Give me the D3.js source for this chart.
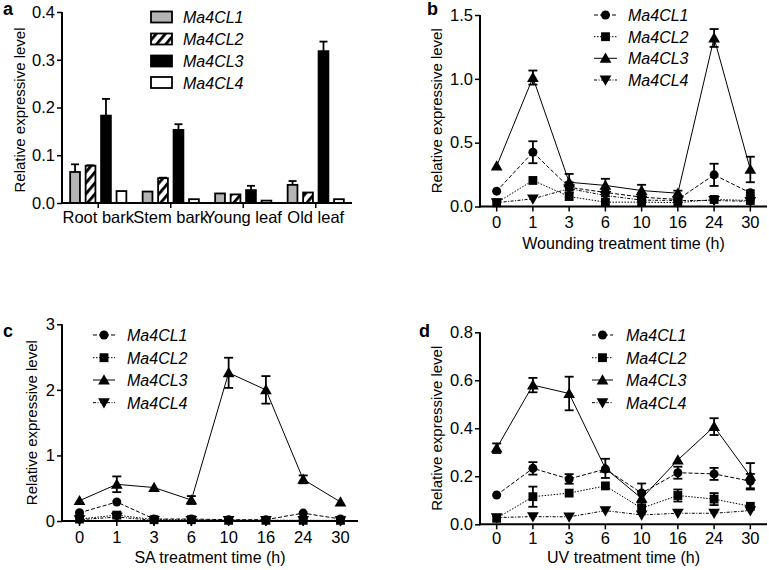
<!DOCTYPE html>
<html><head><meta charset="utf-8">
<script src="https://cdn.jsdelivr.net/npm/d3@7"></script>
<style>body{margin:0;background:#fff} text{font-family:"Liberation Sans",Arial,sans-serif;fill:#000}</style>
</head><body><svg id="c" width="769" height="570"></svg>
<script>
// ---------- data ----------
const genes = ["Ma4CL1", "Ma4CL2", "Ma4CL3", "Ma4CL4"];
const tissues = ["Root bark", "Stem bark", "Young leaf", "Old leaf"];
const times = ["0", "1", "3", "6", "10", "16", "24", "30"];

// panel a: tissues
const aCL1 = [0.065, 0.024, 0.020, 0.038];
const aCL1Err = [0.016, 0, 0, 0.008];
const aCL2 = [0.078, 0.052, 0.018, 0.022];
const aCL2Err = [0.001, 0.001, 0, 0];
const aCL3 = [0.183, 0.153, 0.027, 0.318];
const aCL3Err = [0.035, 0.012, 0.009, 0.020];
const aCL4 = [0.025, 0.008, 0.005, 0.008];
const aCL4Err = [0, 0, 0, 0];
const aTicks = [0.0, 0.1, 0.2, 0.3, 0.4];

// panel b: wounding
const bCL1 = [0.12, 0.425, 0.15, 0.11, 0.073, 0.055, 0.248, 0.107];
const bCL1Err = [0, 0.086, 0.04, 0.03, 0.02, 0.01, 0.087, 0.02];
const bCL2 = [0.029, 0.204, 0.078, 0.034, 0.034, 0.03, 0.055, 0.047];
const bCL2Err = [0, 0, 0, 0, 0, 0, 0, 0];
const bCL3 = [0.316, 1.01, 0.19, 0.165, 0.125, 0.104, 1.32, 0.29];
const bCL3Err = [0, 0.055, 0.065, 0.052, 0.045, 0.02, 0.07, 0.1];
const bCL4 = [0.03, 0.06, 0.14, 0.086, 0.05, 0.047, 0.047, 0.04];
const bCL4Err = [0, 0, 0, 0, 0, 0, 0, 0];
const bTicks = [0.0, 0.5, 1.0, 1.5];

// panel c: SA
const cCL1 = [0.125, 0.29, 0.03, 0.03, 0.02, 0.02, 0.12, 0.03];
const cCL1Err = [0, 0, 0, 0, 0, 0, 0, 0];
const cCL2 = [0.03, 0.09, 0.02, 0.02, 0.01, 0.01, 0.01, 0.01];
const cCL2Err = [0, 0.04, 0, 0, 0, 0, 0, 0];
const cCL3 = [0.31, 0.56, 0.51, 0.32, 2.26, 2.0, 0.635, 0.29];
const cCL3Err = [0, 0.12, 0, 0.06, 0.23, 0.21, 0.06, 0];
const cCL4 = [0.02, 0.06, 0.01, 0.01, 0.01, 0.01, 0.01, 0.005];
const cCL4Err = [0, 0, 0, 0, 0, 0, 0, 0];
const cTicks = [0, 1, 2, 3];

// panel d: UV
const dCL1 = [0.122, 0.233, 0.189, 0.23, 0.13, 0.215, 0.21, 0.18];
const dCL1Err = [0, 0.026, 0.02, 0, 0.04, 0.025, 0.025, 0.03];
const dCL2 = [0.025, 0.115, 0.13, 0.16, 0.067, 0.12, 0.105, 0.075];
const dCL2Err = [0, 0.042, 0, 0, 0, 0.025, 0.025, 0];
const dCL3 = [0.317, 0.58, 0.545, 0.233, 0.108, 0.268, 0.407, 0.2];
const dCL3Err = [0.02, 0.03, 0.07, 0.04, 0.03, 0, 0.035, 0.055];
const dCL4 = [0.028, 0.032, 0.031, 0.057, 0.039, 0.046, 0.046, 0.057];
const dCL4Err = [0, 0, 0, 0, 0, 0, 0, 0];
const dTicks = [0.0, 0.2, 0.4, 0.6, 0.8];

// ---------- drawing ----------
const svg = d3.select("#c");
const defs = svg.append("defs");
const pat = defs.append("pattern").attr("id", "hatch").attr("patternUnits", "userSpaceOnUse")
  .attr("width", 7).attr("height", 7).attr("patternTransform", "rotate(40)");
pat.append("rect").attr("width", 7).attr("height", 7).attr("fill", "#fff");
pat.append("rect").attr("x", 0).attr("y", 0).attr("width", 2.8).attr("height", 7).attr("fill", "#000");

const AX_W = 2;
const TICK_FS = 16.5;

function yAxis(g, y, x0, ticks, fmt) {
  const ax = g.append("g").attr("transform", `translate(${x0},0)`)
    .call(d3.axisLeft(y).tickValues(ticks).tickFormat(fmt).tickSize(5).tickPadding(2));
  ax.select(".domain").attr("stroke-width", AX_W).attr("d", `M0,${y.range()[0] + 1}V${y.range()[1]}`);
  ax.selectAll(".tick line").attr("stroke-width", 1.5);
  ax.selectAll(".tick text").attr("font-size", TICK_FS).attr("font-family", "Liberation Sans, Arial, sans-serif");
  return ax;
}
function xAxisLine(g, x0, x1, yb) {
  g.append("line").attr("x1", x0 - 1).attr("x2", x1).attr("y1", yb).attr("y2", yb)
    .attr("stroke", "#000").attr("stroke-width", AX_W);
}
function yTitle(g, x, yc) {
  g.append("text").attr("transform", `translate(${x},${yc}) rotate(-90)`)
    .attr("text-anchor", "middle").attr("font-size", 15).text("Relative expressive level");
}
function panelLabel(g, x, y, t) {
  g.append("text").attr("x", x).attr("y", y).attr("font-size", 18).attr("font-weight", "bold").text(t);
}

// ----- panel a -----
(function () {
  const g = svg.append("g");
  const x0 = 62, x1 = 352, yTop = 12, yBot = 203;
  const y = d3.scaleLinear().domain([0, 0.4]).range([yBot, yTop]);
  const xb = d3.scaleBand().domain(tissues).range([x0, x1]).paddingInner(0.2).paddingOuter(0.1);
  const xg = d3.scaleBand().domain(genes).range([0, xb.bandwidth()]).paddingInner(0.25);
  const vals = [aCL1, aCL2, aCL3, aCL4];
  const errs = [aCL1Err, aCL2Err, aCL3Err, aCL4Err];
  const fills = ["#b4b4b4", "url(#hatch)", "#000", "#fff"];
  genes.forEach((gn, gi) => {
    tissues.forEach((t, ti) => {
      const v = vals[gi][ti], e = errs[gi][ti];
      const bx = xb(t) + xg(gn), bw = xg.bandwidth();
      if (e > 0) {
        const cx = bx + bw / 2;
        g.append("line").attr("x1", cx).attr("x2", cx).attr("y1", y(v)).attr("y2", y(v + e)).attr("stroke", "#000").attr("stroke-width", 1.8);
        g.append("line").attr("x1", cx - 4).attr("x2", cx + 4).attr("y1", y(v + e)).attr("y2", y(v + e)).attr("stroke", "#000").attr("stroke-width", 1.8);
      }
      g.append("rect").attr("x", bx + 0.9).attr("y", y(v)).attr("width", bw - 1.8).attr("height", yBot - y(v))
        .attr("fill", fills[gi]).attr("stroke", "#000").attr("stroke-width", 1.8);
    });
  });
  yAxis(g, y, x0, aTicks, d3.format(".1f"));
  xAxisLine(g, x0, x1, yBot);
  tissues.forEach(t => {
    const cx = xb(t) + xb.bandwidth() / 2;
    g.append("line").attr("x1", cx).attr("x2", cx).attr("y1", yBot).attr("y2", yBot + 5).attr("stroke", "#000").attr("stroke-width", 1.5);
    g.append("text").attr("x", cx).attr("y", 223).attr("text-anchor", "middle").attr("font-size", 16.5).text(t);
  });
  yTitle(g, 25, 110);
  panelLabel(g, 3, 15, "a");
  // legend
  const ly = [17, 39, 61, 82.5];
  genes.forEach((gn, i) => {
    g.append("rect").attr("x", 151).attr("y", ly[i] - 5.5).attr("width", 21).attr("height", 11)
      .attr("fill", fills[i]).attr("stroke", "#000").attr("stroke-width", 1.8);
    g.append("text").attr("x", 183).attr("y", ly[i] + 6).attr("font-size", 16).attr("font-style", "italic").text(gn);
  });
})();

// ----- line panels -----
const styles = [
  { sym: d3.symbolCircle, size: 64, rot: 0, dash: "4,2" },
  { sym: d3.symbolSquare, size: 78, rot: 0, dash: "1.5,1.5" },
  { sym: d3.symbolTriangle, size: 60, rot: 0, dash: null },
  { sym: d3.symbolTriangle, size: 60, rot: 180, dash: "3,1.5,1,1.5" }
];

function linePanel(cfg) {
  const g = svg.append("g");
  const y = d3.scaleLinear().domain([0, cfg.ymax]).range([cfg.yBot, cfg.yTop]);
  const x = d3.scalePoint().domain(times).range([cfg.x0, cfg.x1]).padding(cfg.pad);
  const line = d3.line().x((d, i) => x(times[i])).y(d => y(d));
  cfg.vals.forEach((vs, si) => {
    g.append("path").attr("d", line(vs)).attr("fill", "none").attr("stroke", "#000").attr("stroke-width", 1)
      .attr("stroke-dasharray", styles[si].dash);
  });
  cfg.vals.forEach((vs, si) => {
    vs.forEach((v, i) => {
      const e = cfg.errs[si][i];
      if (!e) return;
      const cx = x(times[i]);
      const lo = Math.max(0, v - e);
      g.append("line").attr("x1", cx).attr("x2", cx).attr("y1", y(lo)).attr("y2", y(v + e)).attr("stroke", "#000").attr("stroke-width", 1.8);
      [v + e, lo].forEach(w => g.append("line").attr("x1", cx - 4.5).attr("x2", cx + 4.5).attr("y1", y(w)).attr("y2", y(w)).attr("stroke", "#000").attr("stroke-width", 1.8));
    });
  });
  cfg.vals.forEach((vs, si) => {
    const s = styles[si];
    vs.forEach((v, i) => {
      g.append("path").attr("d", d3.symbol(s.sym, s.size)())
        .attr("transform", `translate(${x(times[i])},${y(v) + (s.sym === d3.symbolTriangle ? (s.rot ? -1 : 1) : 0)}) rotate(${s.rot})`)
        .attr("fill", "#000");
    });
  });
  yAxis(g, y, cfg.x0, cfg.ticks, cfg.fmt);
  xAxisLine(g, cfg.x0, cfg.x1, cfg.yBot);
  times.forEach(t => {
    g.append("line").attr("x1", x(t)).attr("x2", x(t)).attr("y1", cfg.yBot).attr("y2", cfg.yBot + 5).attr("stroke", "#000").attr("stroke-width", 1.5);
    g.append("text").attr("x", x(t)).attr("y", cfg.tickY).attr("text-anchor", "middle").attr("font-size", TICK_FS).text(t);
  });
  g.append("text").attr("x", (cfg.x0 + cfg.x1) / 2).attr("y", cfg.titleY).attr("text-anchor", "middle").attr("font-size", 16).text(cfg.xtitle);
  yTitle(g, cfg.ytx, (cfg.yTop + cfg.yBot) / 2);
  panelLabel(g, cfg.lx, cfg.ly, cfg.label);
  genes.forEach((gn, i) => {
    const ry = cfg.legY[i], s = styles[i];
    g.append("line").attr("x1", cfg.legX0).attr("x2", cfg.legX1).attr("y1", ry).attr("y2", ry)
      .attr("stroke", "#000").attr("stroke-width", 1).attr("stroke-dasharray", s.dash);
    g.append("path").attr("d", d3.symbol(s.sym, s.size)())
      .attr("transform", `translate(${(cfg.legX0 + cfg.legX1) / 2},${ry + (s.sym === d3.symbolTriangle ? (s.rot ? -1 : 1) : 0)}) rotate(${s.rot})`).attr("fill", "#000");
    g.append("text").attr("x", cfg.legT).attr("y", ry + 6).attr("font-size", 16).attr("font-style", "italic").text(gn);
  });
}

linePanel({ x0: 480, x1: 767, yTop: 15, yBot: 206.5, ymax: 1.5, pad: 0.46, ticks: bTicks, fmt: d3.format(".1f"),
  vals: [bCL1, bCL2, bCL3, bCL4], errs: [bCL1Err, bCL2Err, bCL3Err, bCL4Err],
  tickY: 228, titleY: 249, xtitle: "Wounding treatment time (h)", ytx: 442, lx: 427, ly: 15, label: "b",
  legX0: 594, legX1: 617, legT: 628, legY: [15, 36.7, 58.3, 80] });

linePanel({ x0: 62, x1: 358, yTop: 324.3, yBot: 521, ymax: 3, pad: 0.47, ticks: cTicks, fmt: d3.format("d"),
  vals: [cCL1, cCL2, cCL3, cCL4], errs: [cCL1Err, cCL2Err, cCL3Err, cCL4Err],
  tickY: 543, titleY: 563, xtitle: "SA treatment time (h)", ytx: 37, lx: 3, ly: 337, label: "c",
  legX0: 93, legX1: 115, legT: 127, legY: [335, 357.7, 380, 402.7] });

linePanel({ x0: 480, x1: 767, yTop: 332.3, yBot: 524.3, ymax: 0.8, pad: 0.46, ticks: dTicks, fmt: d3.format(".1f"),
  vals: [dCL1, dCL2, dCL3, dCL4], errs: [dCL1Err, dCL2Err, dCL3Err, dCL4Err],
  tickY: 544, titleY: 563, xtitle: "UV treatment time (h)", ytx: 442, lx: 419, ly: 337, label: "d",
  legX0: 592, legX1: 613, legT: 626, legY: [335, 357.7, 380, 402.7] });
</script></body></html>
